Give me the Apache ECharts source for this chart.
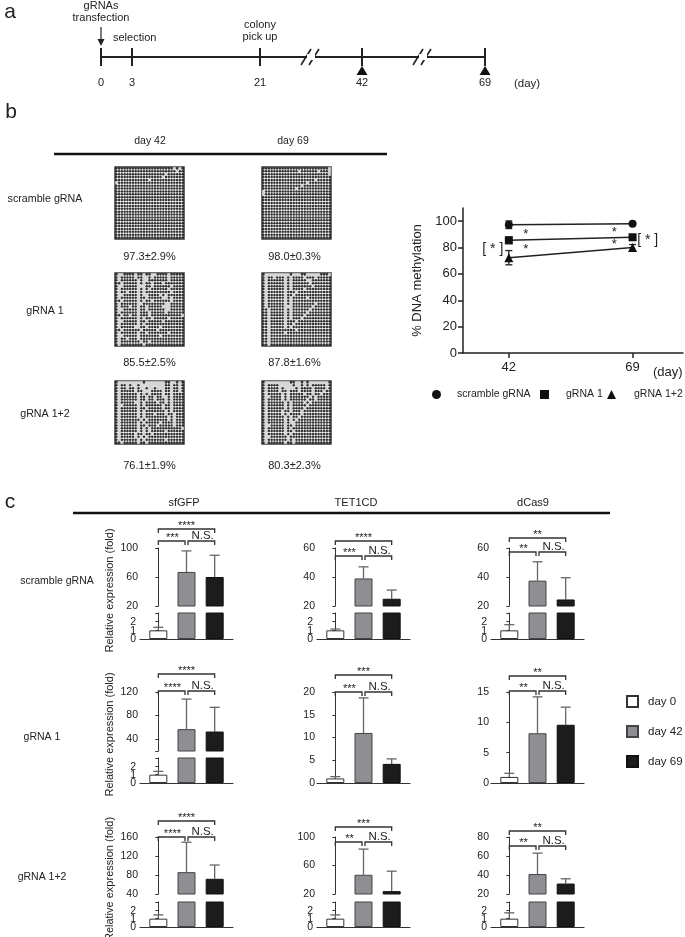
<!DOCTYPE html>
<html><head><meta charset="utf-8">
<script src="https://cdn.jsdelivr.net/npm/echarts@6/dist/echarts.min.js"></script>
<style>html,body{margin:0;padding:0;background:#fff}#c{width:685px;height:937px}</style>
</head><body><div id="c"></div>
<script>
// ================= DATA =================
// panel a: timeline
const timelineDays = [0, 3, 21, 42, 69];
const timelineNotes = ['gRNAs\ntransfection', 'selection', 'colony\npick up', '', ''];
const samplingDays = [42, 69];

// panel b: bisulfite clone maps ('#' methylated CpG, '.' unmethylated)
const groupNames = ['scramble gRNA', 'gRNA 1', 'gRNA 1+2'];
const methylDayNames = ['day 42', 'day 69'];
const methylText = [['97.3±2.9%', '98.0±0.3%'], ['85.5±2.5%', '87.8±1.6%'], ['76.1±1.9%', '80.3±2.3%']];
const scrambleDay42 = [
"#####################.#.#","######################.##","##################.######","#################.#######",
"############.############",".########################","#########################","#########################",
"#########################","#########################","#########################","#########################",
"#########################","#########################","#########################","#########################",
"#########################","#########################","#########################","#########################",
"#########################","#########################","#########################","#########################",
"#########################"];
const scrambleDay69 = [
"########################.","#############.######.###.","########################.","#########################",
"###################.#####","################.########","##############.##########","############.############",
".########################",".########################","#########################","#########################",
"#########################","#########################","#########################","#########################",
"#########################","#########################","#########################","#########################",
"#########################","#########################","#########################","#########################",
"#########################"];
const gRNA1Day42 = [
"#..####.##.##..####.#####","#.#####.##..#.#####.#####","#.######.#..#######.#####","##.#####.#.##.###.#######",
"#..#####...##.######.####","#.######.#.#.######.#####","#.##.###.#.#########.####","#..#####.#..####.#.######",
"#.######.##.#####..#.####","##.#####.#.##.######.####","#.######..########..#####","#.###.##.##.#####...#####",
"#..#####.##.######..#####","#.######.###.#####.######","##.##.##.###.###########.","#.######.#.##.#####.#####",
"#..#####.##.#####.#######","#.######.#.##############","#.#####..##.####.########","##.######.#####.#########",
"#.######.##.#######.#####","#..#####.#######.########","#.##.###.################","#.#######.##.############",
"#.########.##############"];
const gRNA1Day69 = [
"#.........#...##.....###.","#.##.###.#.####.###.#####","#.######.#.#####..#######","#.######.#.######.#######",
"#.######.#.#######.######","#.######.#.####.#########","#.######.###.############","#.######.##.#############",
"#.######.#.#####.########","#.######.#.##############","#.######.#.########.#####","#.######...#######.######",
"##.#####.#.######.#######","##.#####.#.#####.########","##.#####.#.####.#########","##.#####.#.###.##########",
"##.#####.###.############","##.#####.##.#############","##.#####.#.##############","##.#########.############",
"##.#####.################","##.######################","##.######################","##.######################",
"##.######################"];
const gRNA12Day42 = [
"#.........#.......##..#.#","#.##.#..#.........##.##.#","#.##.##.#..#..#...##.##.#","#.#####.##...####.##.##.#",
"#.######.#.#.####.##.####","#.######.##.##.##..#.####","#.######.##.##.###.#.####","#.#####..#.####.##.#.####",
"#..#####.#.######.##.####","#.######.##.#####.##.####","#.######.#.#######.#.####","#.######.#.###.###.##.###",
"#.######.#.########.#.###","#.#######.#.#######.#.###","#.######.#.#####.####.###","#.######.##.###.#####.###",
"#.######.#.#.###########.","#.######.#.#.#####.######","#.#####.##.##.###########","#.#####.#.#.#############",
"#.######.#.#######.######","##.#####.##.#############"];
const gRNA12Day69 = [
"#.........##..#.#.......#","#.####.....#..#.#.#####.#","#.####.#....#.####.####.#","#.####.##.###.####.###.##",
"#.#####.#.#####.##.##.###","#..####.#.#######.#.#####","#.#####.#.######.##.#####","#.######.#.####.#.#######",
"#.######.#.#####.########","#.######.#.####.#########","#.#####.##.###.##########","#.#####.#.####.##########",
"#.######.#.##.###########","#.######.#.#.############","#.######.#..#############","#..#####.##.#############",
"#.######.#.##############","#.######.##.#############","#.######.#.##############","#..######.###############",
"#.#######.#.#############","#.######.##.#############"];
const methylPatterns = [[scrambleDay42, scrambleDay69], [gRNA1Day42, gRNA1Day69], [gRNA12Day42, gRNA12Day69]];

// panel b: % DNA methylation line chart
const lineDays = [42, 69];
const lineYTicks = [0, 20, 40, 60, 80, 100];
const scrambleMean = [97.3, 98.0], scrambleErr = [2.9, 0.3];
const gRNA1Mean = [85.5, 87.8], gRNA1Err = [2.5, 1.6];
const gRNA12Mean = [72.3, 80.0], gRNA12Err = [5.4, 2.3];

// panel c: relative expression (fold)  [day 0, day 42, day 69]
const genes = ['sfGFP', 'TET1CD', 'dCas9'];
const timepoints = ['day 0', 'day 42', 'day 69'];
const scr_sfGFP = [1.0, 67, 60],  scr_sfGFP_err = [0.35, 29, 30];
const scr_TET1CD = [1.0, 39, 25], scr_TET1CD_err = [0.15, 8, 6];
const scr_dCas9 = [1.0, 37.5, 24.5], scr_dCas9_err = [0.65, 13, 15];
const g1_sfGFP = [1.0, 57, 53],   g1_sfGFP_err = [0.4, 51, 41];
const g1_TET1CD = [1.0, 11, 4.2], g1_TET1CD_err = [0.4, 7.7, 1.1];
const g1_dCas9 = [1.0, 8.2, 9.6], g1_dCas9_err = [0.6, 6, 2.9];
const g12_sfGFP = [1.0, 86, 72],  g12_sfGFP_err = [0.45, 63, 29];
const g12_TET1CD = [1.0, 47, 24], g12_TET1CD_err = [0.45, 36, 28];
const g12_dCas9 = [1.0, 41, 31],  g12_dCas9_err = [0.7, 22, 5];
const exprMean = [[scr_sfGFP, scr_TET1CD, scr_dCas9], [g1_sfGFP, g1_TET1CD, g1_dCas9], [g12_sfGFP, g12_TET1CD, g12_dCas9]];
const exprErr = [[scr_sfGFP_err, scr_TET1CD_err, scr_dCas9_err], [g1_sfGFP_err, g1_TET1CD_err, g1_dCas9_err], [g12_sfGFP_err, g12_TET1CD_err, g12_dCas9_err]];
// significance: [day0 vs day69, day0 vs day42, day42 vs day69]
const sigLabels = [
  [['****', '***', 'N.S.'], ['****', '***', 'N.S.'], ['**', '**', 'N.S.']],
  [['****', '****', 'N.S.'], ['***', '***', 'N.S.'], ['**', '**', 'N.S.']],
  [['****', '****', 'N.S.'], ['***', '**', 'N.S.'], ['**', '**', 'N.S.']]];
// axis scales and tick labels (upper part of broken axis, or full axis)
const upperRange = [[[20, 100], [20, 60], [20, 60]], [[20, 120], [0, 20], [0, 15]], [[40, 160], [20, 100], [20, 80]]];
const upperTicks = [[[20, 60, 100], [20, 40, 60], [20, 40, 60]], [[20, 40, 80, 120], [0, 5, 10, 15, 20], [0, 5, 10, 15]], [[40, 80, 120, 160], [20, 60, 100], [20, 40, 60, 80]]];
const upperLabels = [[[20, 60, 100], [20, 40, 60], [20, 40, 60]], [[40, 80, 120], [0, 5, 10, 15, 20], [0, 5, 10, 15]], [[40, 80, 120, 160], [20, 60, 100], [20, 40, 60, 80]]];
const brokenAxis = [[true, true, true], [true, false, false], [true, true, true]];
const lowerRange = [0, 3], lowerTicks = [0, 1, 2, 3], lowerLabels = [0, 1, 2];

// ================= LAYOUT / STYLE =================
const FONT = '"Liberation Sans", Arial, Helvetica, sans-serif';
const INK = '#222';
const chart = echarts.init(document.getElementById('c'));
const grids = [], xAxes = [], yAxes = [], series = [], graphics = [];
function addGrid(g, xa, ya) {
  grids.push(Object.assign({containLabel: false}, g));
  const gi = grids.length - 1;
  xAxes.push(Object.assign({gridIndex: gi}, xa));
  yAxes.push(Object.assign({gridIndex: gi}, ya));
  return gi;
}
function T(x, y, text, size, o) {
  o = o || {};
  return {type: 'text', x: x, y: y, rotation: o.rot || 0, silent: true, z: 20,
    style: {text: text, font: (o.weight || 'normal') + ' ' + size + 'px ' + FONT, fill: o.color || INK,
      textAlign: o.align || 'center', textVerticalAlign: o.valign || 'middle', lineHeight: o.lh || size * 1.1}};
}
function L(x1, y1, x2, y2, w, c) {
  return {type: 'line', silent: true, z: 20, shape: {x1: x1, y1: y1, x2: x2, y2: y2}, style: {stroke: c || INK, lineWidth: w || 1}};
}

// ---------- panel a : timeline (schematic) ----------
const TL = {y: 57, x: {0: 101, 3: 132, 21: 260, 42: 362, 69: 485}, breaks: [312, 424]};
graphics.push(T(10, 12, 'a', 21));
graphics.push(L(TL.x[0], TL.y, TL.x[69], TL.y, 2.2));
TL.breaks.forEach(function (bx) {
  graphics.push({type: 'rect', silent: true, z: 21, shape: {x: bx - 5, y: TL.y - 3, width: 8, height: 6}, style: {fill: '#fff'}});
  graphics.push(L(bx - 11, TL.y + 8, bx - 1, TL.y - 8, 1.6));
  graphics.push(L(bx - 3, TL.y + 8, bx + 7, TL.y - 8, 1.6));
});
timelineDays.forEach(function (d, i) {
  const x = TL.x[d];
  graphics.push(L(x, TL.y - 9, x, TL.y + 9, 2));
  graphics.push(T(x, 83, String(d), 11));
});
graphics.push(T(514, 84, '(day)', 11.5, {align: 'left'}));
graphics.push(T(TL.x[0], 12, timelineNotes[0], 11, {lh: 12}));
graphics.push(L(TL.x[0], 27, TL.x[0], 41, 1.2));
graphics.push({type: 'polygon', silent: true, z: 20, shape: {points: [[TL.x[0] - 3.5, 39], [TL.x[0] + 3.5, 39], [TL.x[0], 46]]}, style: {fill: INK}});
graphics.push(T(113, 38, timelineNotes[1], 11, {align: 'left'}));
graphics.push(T(TL.x[21], 31, timelineNotes[2], 11, {lh: 12}));
samplingDays.forEach(function (d) {
  const x = TL.x[d];
  graphics.push({type: 'polygon', silent: true, z: 21, shape: {points: [[x - 5.5, 75], [x + 5.5, 75], [x, 66]]}, style: {fill: '#111'}});
});

// ---------- panel b : clone maps ----------
graphics.push(T(11, 112, 'b', 21));
graphics.push(T(150, 141, methylDayNames[0], 10.5));
graphics.push(T(293, 141, methylDayNames[1], 10.5));
graphics.push(L(54, 154, 387, 154, 2.5, '#111'));
const mapCols = [115, 262], mapW = 69;
const mapRows = [{top: 167, h: 72, label: 199, pct: 257}, {top: 273, h: 73, label: 311, pct: 363}, {top: 381, h: 63, label: 414, pct: 466}];
groupNames.forEach(function (g, r) {
  graphics.push(T(45, mapRows[r].label, g, 10.7));
  methylPatterns[r].forEach(function (pat, c) {
    const nR = pat.length, nC = pat[0].length;
    const cats = (n) => Array.from({length: n}, (_, k) => k);
    const gi = addGrid({left: mapCols[c], top: mapRows[r].top, width: mapW, height: mapRows[r].h, show: true,
      borderColor: '#3a3a3a', borderWidth: 1.5, backgroundColor: '#fff'},
      {type: 'category', data: cats(nC), show: false},
      {type: 'category', data: cats(nR), show: false, inverse: true});
    const meth = [], unmeth = [];
    pat.forEach(function (row, i) { for (let j = 0; j < row.length; j++) (row[j] === '#' ? meth : unmeth).push([j, i]); });
    const cw = mapW / nC, ch = mapRows[r].h / nR;
    series.push({type: 'scatter', xAxisIndex: gi, yAxisIndex: gi, data: unmeth, symbol: 'rect', symbolSize: [cw + 0.2, ch + 0.2], itemStyle: {color: '#cdcdcd'}, silent: true});
    series.push({type: 'scatter', xAxisIndex: gi, yAxisIndex: gi, data: meth, symbol: 'circle', symbolSize: 2.5, itemStyle: {color: '#000'}, silent: true});
    graphics.push(T(mapCols[c] + mapW / 2 - (c ? 2 : 0), mapRows[r].pct, methylText[r][c], 11));
  });
});

// ---------- panel b : line chart ----------
const lineGi = addGrid({left: 463, top: 208, width: 220, height: 145},
  {type: 'value', min: 32, max: 80, splitLine: {show: false},
    axisLine: {lineStyle: {color: INK, width: 1.5}},
    axisTick: {customValues: lineDays, length: 5, lineStyle: {color: INK, width: 1.5}},
    axisLabel: {customValues: lineDays, fontSize: 13, color: INK, margin: 8, fontFamily: FONT}},
  {type: 'value', min: 0, max: 110, splitLine: {show: false},
    axisLine: {show: true, lineStyle: {color: INK, width: 1.5}},
    axisTick: {show: true, customValues: lineYTicks, length: 5, lineStyle: {color: INK, width: 1.5}},
    axisLabel: {customValues: lineYTicks, fontSize: 13, color: INK, margin: 6, fontFamily: FONT},
    name: '% DNA methylation', nameLocation: 'middle', nameRotate: 90, nameGap: 39,
    nameTextStyle: {fontSize: 13, color: INK, fontFamily: FONT}});
graphics.push(T(653, 372, '(day)', 13, {align: 'left'}));
const lineSets = [[groupNames[0], scrambleMean, scrambleErr, 'circle', 8], [groupNames[1], gRNA1Mean, gRNA1Err, 'rect', 8], [groupNames[2], gRNA12Mean, gRNA12Err, 'triangle', 9]];
function symErr(params, api) {
  const x = api.value(0), lo = api.value(1), hi = api.value(2);
  const a = api.coord([x, lo]), b = api.coord([x, hi]), hw = 3.5;
  const st = {stroke: INK, lineWidth: 1.3};
  return {type: 'group', children: [
    {type: 'line', shape: {x1: a[0], y1: a[1], x2: b[0], y2: b[1]}, style: st},
    {type: 'line', shape: {x1: a[0] - hw, y1: a[1], x2: a[0] + hw, y2: a[1]}, style: st},
    {type: 'line', shape: {x1: b[0] - hw, y1: b[1], x2: b[0] + hw, y2: b[1]}, style: st}]};
}
lineSets.forEach(function (s) {
  series.push({name: s[0], type: 'line', xAxisIndex: lineGi, yAxisIndex: lineGi, symbol: s[3], symbolSize: s[4],
    data: lineDays.map((d, i) => [d, s[1][i]]), lineStyle: {color: INK, width: 1.5}, itemStyle: {color: '#111'}, silent: true, z: 5});
  series.push({type: 'custom', xAxisIndex: lineGi, yAxisIndex: lineGi, renderItem: symErr, silent: true, z: 4,
    data: lineDays.map((d, i) => [d, s[1][i] - s[2][i], s[1][i] + s[2][i]])});
});
const lineLegendLeft = [432, 540, 607], lineLegendPad = [11, 12, 13];
const lineLegends = lineSets.map(function (s, i) {
  return {data: [{name: s[0], icon: s[3]}], left: lineLegendLeft[i], top: 389, itemWidth: 9, itemHeight: 9,
    selectedMode: false, padding: 0, textStyle: {fontSize: 10.5, color: INK, fontFamily: FONT, padding: [0, 0, 0, lineLegendPad[i]]}};
});

// ---------- panel c : expression bars ----------
graphics.push(T(10, 502, 'c', 21));
graphics.push(L(73, 513, 610, 513, 2.5, '#111'));
const colAxisX = [140, 317, 491];
const colTitleX = [184, 356, 533];
const rowBox = [
  {upTop: 548, upBot: 606, loTop: 613, loBot: 639, label: [57, 581], brk: [[-19, -7], [-7, 8], [-10, 4]]},
  {upTop: 692, upBot: 751, loTop: 758, loBot: 783, label: [42, 737], brk: [[-18, -1], [-17, 0], [-16, -1]]},
  {upTop: 837, upBot: 894, loTop: 902, loBot: 927, label: [42, 877], brk: [[-16, 0], [-10, 5], [-6, 9]]}];
genes.forEach((g, c) => graphics.push(T(colTitleX[c], 503, g, 11)));
const barFill = ['#ffffff', '#8f8f93', '#1c1c1c'];
const barLine = ['#333', '#444', '#111'];
const errColor = '#666';
function upErr(params, api) {
  const cs = params.coordSys;
  const x = api.value(0), m = api.value(1), t = api.value(2);
  const p1 = api.coord([x, m]), p2 = api.coord([x, t]);
  const top = cs.y, bot = cs.y + cs.height;
  const y1 = Math.min(p1[1], bot), y2 = Math.max(p2[1], top);
  if (y1 <= y2) return null;
  const st = {stroke: errColor, lineWidth: 1.3};
  const ch = [{type: 'line', shape: {x1: p1[0], y1: y1, x2: p1[0], y2: y2}, style: st}];
  if (p2[1] >= top && p2[1] <= bot) ch.push({type: 'line', shape: {x1: p1[0] - 5, y1: p2[1], x2: p1[0] + 5, y2: p2[1]}, style: st});
  return {type: 'group', children: ch};
}
const xCommon = {type: 'value', min: -0.65, max: 2.65, splitLine: {show: false}, axisTick: {show: false}, axisLabel: {show: false}};
function yCommon(range, ticks, labels) {
  return {type: 'value', min: range[0], max: range[1], splitLine: {show: false},
    axisLine: {show: true, lineStyle: {color: '#333', width: 1}},
    axisTick: {show: true, customValues: ticks, length: 3, lineStyle: {color: '#333'}},
    axisLabel: labels ? {customValues: labels, interval: 0, hideOverlap: false, fontSize: 10.5, color: INK, margin: 2, fontFamily: FONT} : {show: false}};
}
const bracketJobs = [], lowerJobs = [];
function addBars(gi, r, c) {
  timepoints.forEach(function (tp, i) {
    series.push({name: tp, type: 'bar', xAxisIndex: gi, yAxisIndex: gi, stack: 's' + gi, barWidth: 18, silent: true,
      data: [[i, exprMean[r][c][i]]], itemStyle: {color: barFill[i], borderColor: barLine[i], borderWidth: 1}, z: 3});
  });
  series.push({type: 'custom', xAxisIndex: gi, yAxisIndex: gi, renderItem: upErr, silent: true, z: 2,
    data: timepoints.map((tp, i) => [i, exprMean[r][c][i], exprMean[r][c][i] + exprErr[r][c][i]])});
}
groupNames.forEach(function (gname, r) {
  const rb = rowBox[r];
  graphics.push(T(rb.label[0], rb.label[1], gname, 10.5));
  genes.forEach(function (gene, c) {
    const ax = colAxisX[c];
    let upGi;
    if (brokenAxis[r][c]) {
      upGi = addGrid({left: ax, top: rb.upTop, width: 93, height: rb.upBot - rb.upTop},
        Object.assign({show: false}, xCommon), yCommon(upperRange[r][c], upperTicks[r][c], upperLabels[r][c]));
      const loGi = addGrid({left: ax, top: rb.loTop, width: 93, height: rb.loBot - rb.loTop},
        Object.assign({axisLine: {show: true, onZero: false, lineStyle: {color: '#333', width: 1.2}}}, xCommon),
        yCommon(lowerRange, lowerTicks, null));
      lowerJobs.push({gi: loGi, x: ax});
      addBars(upGi, r, c); addBars(loGi, r, c);
    } else {
      upGi = addGrid({left: ax, top: rb.upTop, width: 93, height: rb.loBot - rb.upTop},
        Object.assign({axisLine: {show: true, onZero: false, lineStyle: {color: '#333', width: 1.2}}}, xCommon),
        yCommon(upperRange[r][c], upperTicks[r][c], upperLabels[r][c]));
      addBars(upGi, r, c);
    }
    bracketJobs.push({gi: upGi, yTop: rb.upTop + rb.brk[c][0], yLow: rb.upTop + rb.brk[c][1], labels: sigLabels[r][c]});
    if (c === 0) graphics.push(T(110, (rb.upTop + rb.loBot) / 2 - 3, 'Relative expression (fold)', 11, {rot: Math.PI / 2}));
  });
});
const barLegend = {data: timepoints, orient: 'vertical', left: 626, top: 695, itemWidth: 11, itemHeight: 11, itemGap: 17, icon: 'rect',
  selectedMode: false, padding: 0, textStyle: {fontSize: 11.5, color: INK, fontFamily: FONT, padding: [0, 0, 0, 5]}};

chart.setOption({animation: false, backgroundColor: '#fff', textStyle: {fontFamily: FONT},
  grid: grids, xAxis: xAxes, yAxis: yAxes, series: series, legend: lineLegends.concat([barLegend])});

// ---------- data-anchored annotations ----------
lowerJobs.forEach(function (j) {
  lowerLabels.forEach(function (v) {
    const p = chart.convertToPixel({gridIndex: j.gi}, [0, v]);
    graphics.push(T(j.x - 4, p[1] + 0.5, String(v), 10.5, {align: 'right'}));
  });
});
bracketJobs.forEach(function (b) {
  const px = [0, 1, 2].map(i => chart.convertToPixel({gridIndex: b.gi}, [i, 0])[0]);
  const d = 4, st = '#333';
  function bracket(x1, x2, y) {
    graphics.push({type: 'polyline', silent: true, z: 20, shape: {points: [[x1, y + d], [x1, y], [x2, y], [x2, y + d]]}, style: {stroke: st, lineWidth: 1.3, fill: null}});
  }
  bracket(px[0], px[2], b.yTop);
  bracket(px[0], px[1] - 1.5, b.yLow);
  bracket(px[1] + 1.5, px[2], b.yLow);
  const lab = function (x, y, t) {
    if (t.indexOf('*') >= 0) graphics.push(T(x, y - 3, t, 11));
    else graphics.push(T(x, y + 1, t, 11.5, {valign: 'bottom'}));
  };
  lab((px[0] + px[2]) / 2, b.yTop, b.labels[0]);
  lab((px[0] + px[1]) / 2, b.yLow, b.labels[1]);
  lab((px[1] + px[2]) / 2 + 2, b.yLow, b.labels[2]);
});
// line chart significance marks
function lp(x, y) { return chart.convertToPixel({gridIndex: lineGi}, [x, y]); }
const starSpots = [[lineDays[0] + 3.7, (scrambleMean[0] + gRNA1Mean[0]) / 2], [lineDays[0] + 3.7, (gRNA1Mean[0] + gRNA12Mean[0]) / 2 + 1],
  [lineDays[1] - 4, (scrambleMean[1] + gRNA1Mean[1]) / 2], [lineDays[1] - 4, (gRNA1Mean[1] + gRNA12Mean[1]) / 2]];
starSpots.forEach(function (s) { const p = lp(s[0], s[1]); graphics.push(T(p[0], p[1] + 2, '*', 13)); });
const pL = lp(lineDays[0] - 3.5, (gRNA1Mean[0] + gRNA12Mean[0]) / 2);
graphics.push(T(pL[0], pL[1], '[ * ]', 14));
const pR = lp(lineDays[1] + 3.3, (gRNA1Mean[1] + gRNA12Mean[1]) / 2 + 2);
graphics.push(T(pR[0], pR[1], '[ * ]', 14));

chart.setOption({graphic: {elements: graphics}});
</script>
</body></html>
